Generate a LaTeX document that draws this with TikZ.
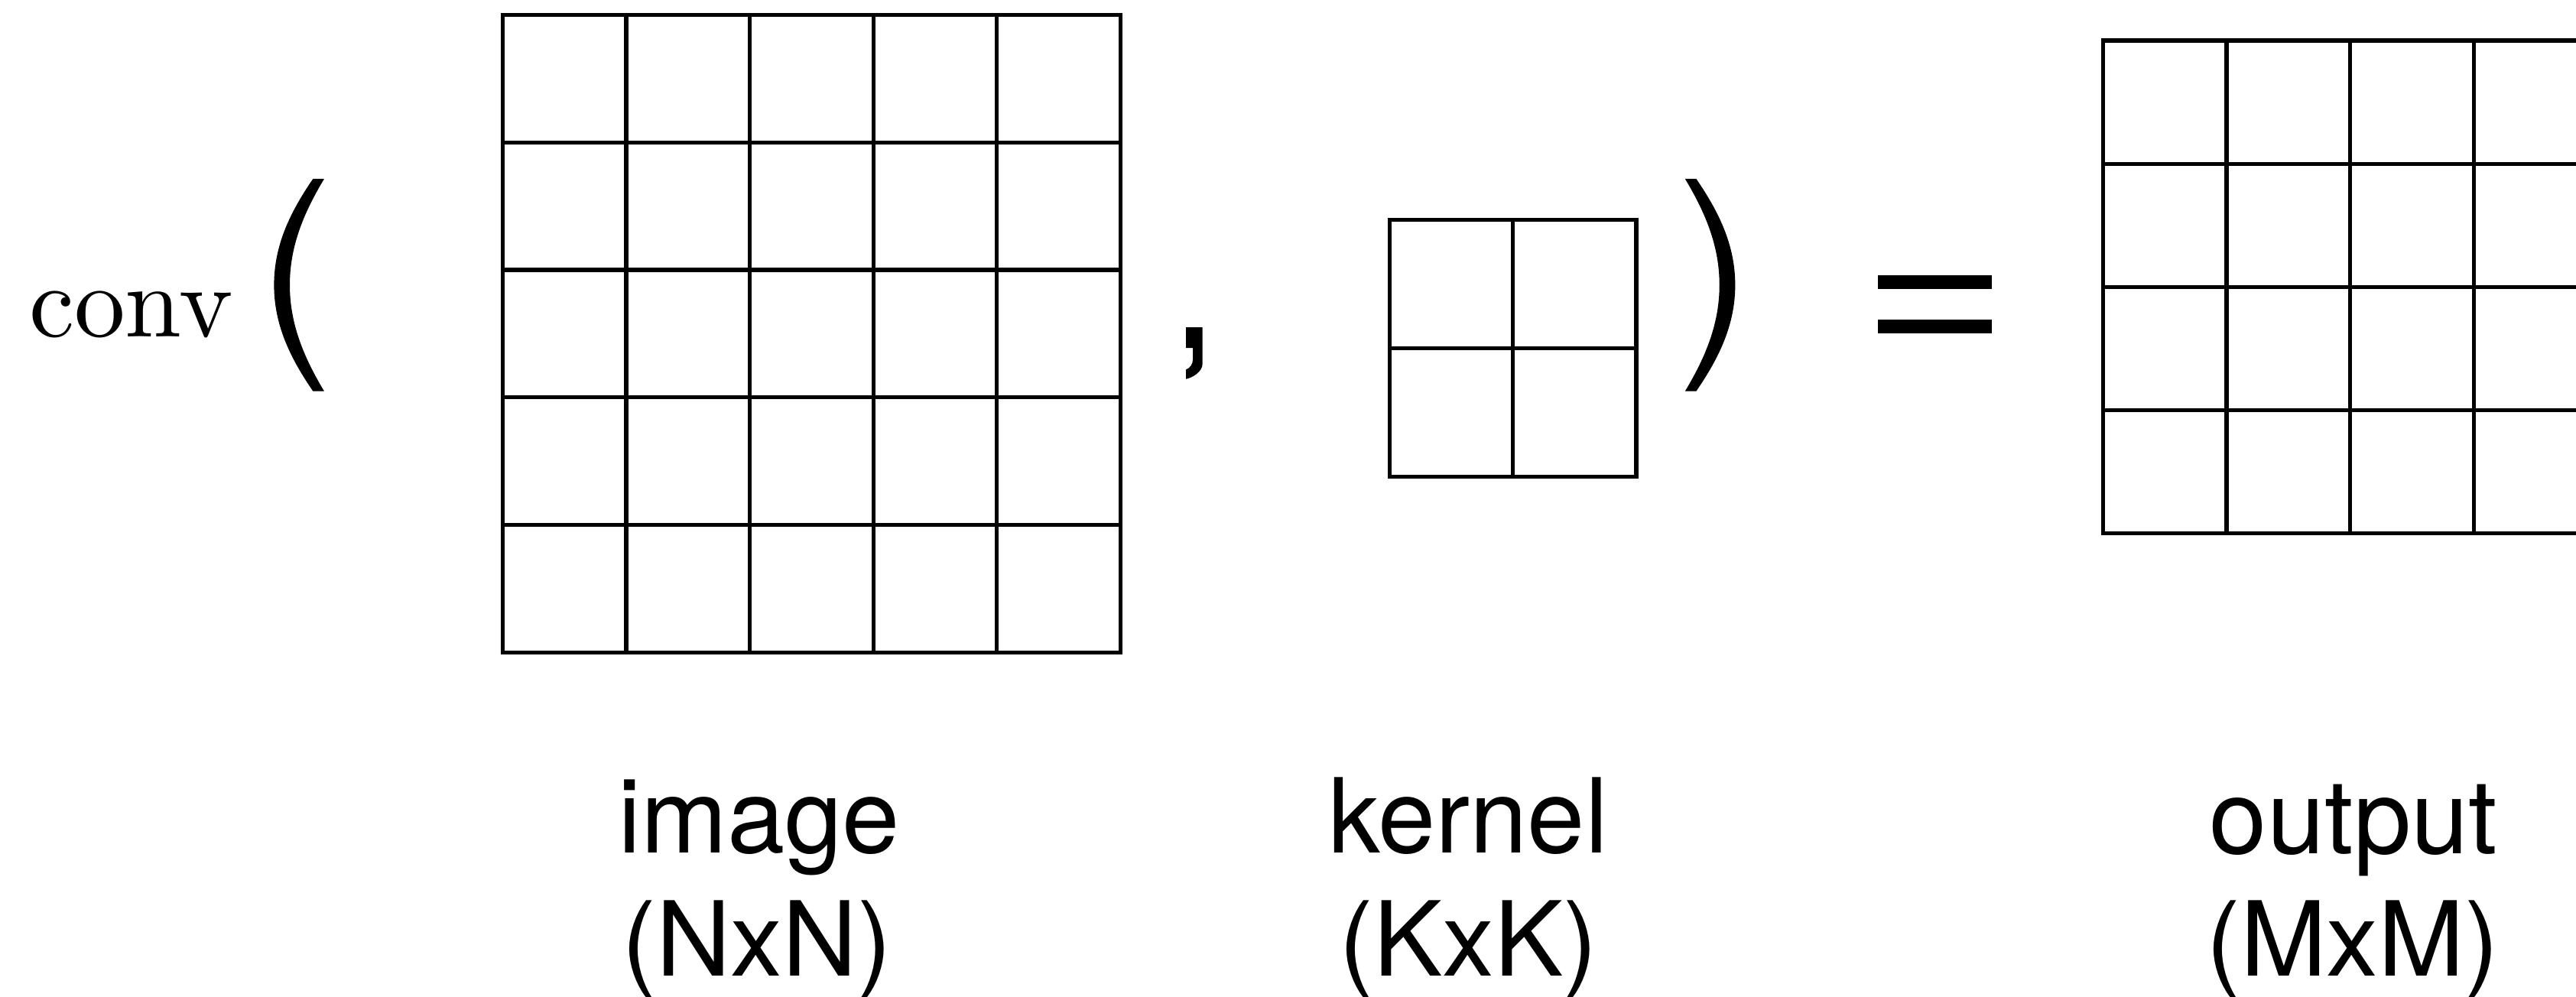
\documentclass[tikz,border=0pt]{standalone}
\usepackage{fontspec}
\newfontfamily\lblfont{TeX Gyre Heros}
\newfontfamily\cmten{lmroman10-regular.otf}
\begin{document}
\begin{tikzpicture}[x=1pt,y=-1pt,
  gridline/.style={line width=2.4pt, line cap=rect, black},
  lbl/.style={anchor=base, inner sep=0pt, font=\lblfont\fontsize{63}{75}\selectfont},
  mathtxt/.style={anchor=base west, inner sep=0pt, font=\cmten\fontsize{62}{70}\selectfont}]
\useasboundingbox (0,0) rectangle (1568,606.45);
\clip (0,0) rectangle (1568,606.45);

% conv
\node[mathtxt] (conv) at (17.6,204.8) {conv};

% left big parenthesis
\fill (190.5,108.9) .. controls (176,130) and (166.8,150) .. (166.8,173.5)
  .. controls (166.8,197) and (176,217) .. (190.5,238.1)
  -- (197.3,238.1) .. controls (184,216) and (176.4,196) .. (176.4,173.5)
  .. controls (176.4,151) and (184,131) .. (197.3,108.9) -- cycle;

% image grid 5x5
\foreach \i in {0,...,5} {
  \draw[gridline] ({306+75.2*\i},9.1) -- ({306+75.2*\i},397.1);
  \draw[gridline] (306,{9.1+77.6*\i}) -- (682,{9.1+77.6*\i});
}

% comma
\fill (721.9,199.3) -- (731.9,199.3) -- (731.9,221.8)
  .. controls (731.9,226) and (726,230) .. (721.9,230.7)
  -- (721.9,225) .. controls (724.5,224) and (726.1,221.5) .. (726.1,218.7)
  -- (726.1,211.8) -- (721.9,211.8) -- cycle;

% kernel grid 2x2
\foreach \i in {0,1,2} {
  \draw[gridline] ({846+75*\i},134) -- ({846+75*\i},290);
  \draw[gridline] (846,{134+78*\i}) -- (996,{134+78*\i});
}

% right big parenthesis (mirror of left)
\begin{scope}[xshift=1223pt, x=-1pt]
\fill (190.5,108.9) .. controls (176,130) and (166.8,150) .. (166.8,173.5)
  .. controls (166.8,197) and (176,217) .. (190.5,238.1)
  -- (197.3,238.1) .. controls (184,216) and (176.4,196) .. (176.4,173.5)
  .. controls (176.4,151) and (184,131) .. (197.3,108.9) -- cycle;
\end{scope}

% equals sign
\fill (1143,167.6) rectangle (1212.4,175.8);
\fill (1143,194.4) rectangle (1212.4,202.8);

% output grid 4x4 (cut at the right edge)
\foreach \i in {0,...,4} {
  \draw[gridline] ({1280+75.3*\i},24.7) -- ({1280+75.3*\i},324.7);
  \draw[gridline] (1280,{24.7+75*\i}) -- (1581.2,{24.7+75*\i});
}

% labels
\node[lbl] (imgname) at (462,519.3) {image};
\node[lbl] (imgsize) at (460.6,594) {(NxN)};
\node[lbl] (kername) at (893.7,519.3) {kernel};
\node[lbl] (kersize) at (893.7,594) {(KxK)};
\node[lbl] (outname) at (1432.6,519.5) {output};
\node[lbl] (outsize) at (1432,594) {(MxM)};
\end{tikzpicture}
\end{document}
